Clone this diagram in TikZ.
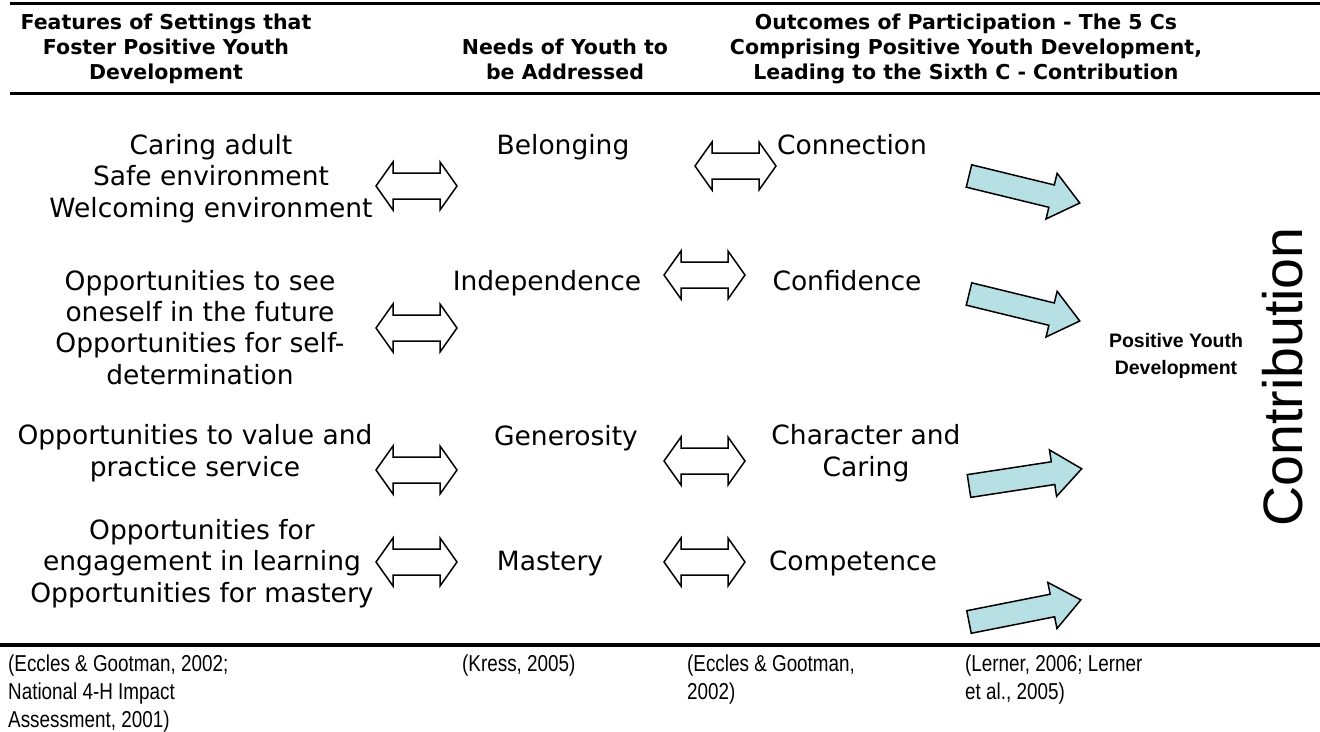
\documentclass[tikz,border=0pt]{standalone}
\usepackage{fontspec}
\setmainfont{DejaVu Sans}
\newfontfamily\arialf{Liberation Sans}
\newfontfamily\narrowf{Liberation Sans}[FakeStretch=0.82]
\definecolor{arrowblue}{RGB}{183,224,228}
\begin{document}
\begin{tikzpicture}[x=1pt,y=-1pt,
  hdr/.style={font=\fontsize{20.5}{25}\selectfont\bfseries, align=center, anchor=base, inner sep=0},
  body/.style={font=\fontsize{26.5}{31.3}\selectfont, align=center, anchor=base, inner sep=0},
  refs/.style={font=\narrowf\fontsize{23}{28}\selectfont, align=left, anchor=base west, inner sep=0},
  rule/.style={line width=3pt},
  dblarrow/.pic={\draw[line width=1.5pt, line join=miter, fill=white]
     (-40.5,0) -- (-23.5,24) -- (-23.5,13) -- (23.5,13) -- (23.5,24) -- (40.5,0)
     -- (23.5,-24) -- (23.5,-13) -- (-23.5,-13) -- (-23.5,-24) -- cycle;},
  bluearrow/.pic={\draw[line width=1.5pt, line join=miter, fill=arrowblue]
     (0,11.5) -- (85,11.5) -- (85,23.5) -- (114,0) -- (85,-23.5) -- (85,-11.5) -- (0,-11.5) -- cycle;}
]
\useasboundingbox (0,0) rectangle (1320,731);
\fill[white] (0,0) rectangle (1320,731);

% rules
\draw[rule] (10,3) -- (1320,3);
\draw[rule] (10,93) -- (1320,93);
\draw[line width=4pt] (0,645) -- (1320,645);

% headers (anchor base = baseline of last line)
\node[hdr] (h1) at (166,79) {Features of Settings that\\Foster Positive Youth\\Development};
\node[hdr] (h2) at (565,79) {Needs of Youth to\\be Addressed};
\node[hdr] (h3) at (966,79) {Outcomes of Participation - The 5 Cs\\Comprising Positive Youth Development,\\Leading to the Sixth C - Contribution};

% column 1
\node[body] (f1) at (211,217) {Caring adult\\Safe environment\\Welcoming environment};
\node[body] (f2) at (200,384) {Opportunities to see\\oneself in the future\\Opportunities for self-\\determination};
\node[body] (f3) at (195,476) {Opportunities to value and\\practice service};
\node[body] (f4) at (202,602) {Opportunities for\\engagement in learning\\Opportunities for mastery};

% column 2
\node[body] (n1) at (563,154) {Belonging};
\node[body] (n2) at (547,290) {Independence};
\node[body] (n3) at (566,445) {Generosity};
\node[body] (n4) at (550,570) {Mastery};

% column 3
\node[body] (o1) at (852,154) {Connection};
\node[body] (o2) at (847,290) {Confidence};
\node[body] (o3) at (866,476) {Character and\\Caring};
\node[body] (o4) at (853,570) {Competence};

% double arrows
\pic at (416.5,186) {dblarrow};
\pic at (416.5,328) {dblarrow};
\pic at (416.5,470) {dblarrow};
\pic at (416.5,562) {dblarrow};
\pic at (735.5,166) {dblarrow};
\pic at (704.5,275) {dblarrow};
\pic at (704.5,461) {dblarrow};
\pic at (704.5,562) {dblarrow};

% blue arrows
\pic[rotate=-13.7] at (969,176) {bluearrow};
\pic[rotate=-13.7] at (969,294) {bluearrow};
\pic[rotate=8.7] at (969,486) {bluearrow};
\pic[rotate=11.2] at (969,622) {bluearrow};

% right side
\node[font=\arialf\fontsize{19.5}{27}\selectfont\bfseries, align=center, anchor=base, inner sep=0] (pyd) at (1176,374) {Positive Youth\\Development};
\node[font=\arialf\fontsize{55.5}{60}\selectfont, rotate=90, inner sep=0] (contrib) at (1283,377) {Contribution};

% references
\node[refs] (r1) at (8,727) {(Eccles \& Gootman, 2002;\\National 4-H Impact\\Assessment, 2001)};
\node[refs] (r2) at (462,671) {(Kress, 2005)};
\node[refs] (r3) at (687,699) {(Eccles \& Gootman,\\2002)};
\node[refs] (r4) at (965,699) {(Lerner, 2006; Lerner\\et al., 2005)};
\end{tikzpicture}
\end{document}
